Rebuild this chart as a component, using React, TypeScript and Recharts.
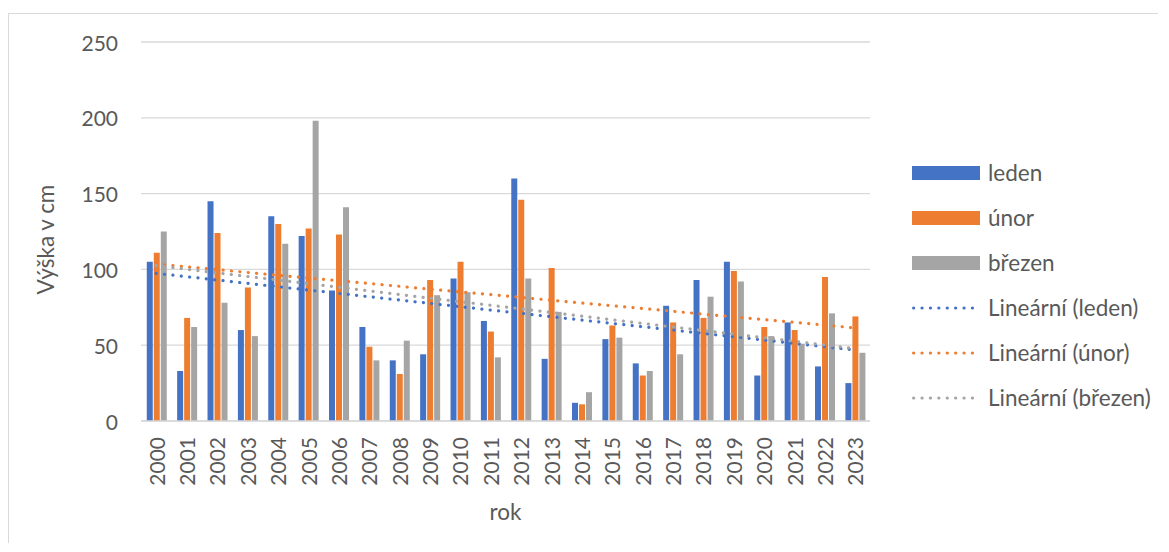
import React from "react";
import {
	Bar,
	BarChart,
	CartesianGrid,
	ReferenceLine,
	XAxis,
	YAxis,
} from "recharts";

const years = [
	"2000", "2001", "2002", "2003", "2004", "2005", "2006", "2007",
	"2008", "2009", "2010", "2011", "2012", "2013", "2014", "2015",
	"2016", "2017", "2018", "2019", "2020", "2021", "2022", "2023",
];
const leden = [105, 33, 145, 60, 135, 122, 86, 62, 40, 44, 94, 66, 160, 41, 12, 54, 38, 76, 93, 105, 30, 65, 36, 25];
const unor = [111, 68, 124, 88, 130, 127, 123, 49, 31, 93, 105, 59, 146, 101, 11, 63, 30, 65, 68, 99, 62, 60, 95, 69];
const brezen = [125, 62, 78, 56, 117, 198, 141, 40, 53, 83, 85, 42, 94, 72, 19, 55, 33, 44, 82, 92, 56, 51, 71, 45];

const seriesKeys = ["leden", "unor", "brezen"];
const seriesNames = ["leden", "únor", "březen"];
const trendNames = ["Lineární (leden)", "Lineární (únor)", "Lineární (březen)"];
const colors = ["#4472C4", "#ED7D31", "#A5A5A5"];
// linear trend values at the first and last year
const trendStart = [97.4, 103.5, 102.5];
const trendEnd = [46.8, 61.4, 47.8];
const yTicks = [0, 50, 100, 150, 200, 250];

const data = years.map((rok, i) => ({
	rok,
	leden: leden[i],
	unor: unor[i],
	brezen: brezen[i],
}));

const FONT = "Lato, 'Noto Sans', sans-serif";
const TEXT = "#595959";
const GRID = "#d9d9d9";
const FS_NUM = 21;
const FS_TXT = 22.5;
const DOTS = "0.1 8.3";

const YTick = ({ y, payload }: any) => (
	<text x={109} y={y} textAnchor="end" dominantBaseline="central" fill={TEXT} fontSize={FS_NUM} fontFamily={FONT}>
		{payload.value}
	</text>
);

const XTick = ({ x, y, payload }: any) => {
	const ty = y + 8;
	return (
		<text
			x={x}
			y={ty}
			transform={`rotate(-90 ${x} ${ty})`}
			textAnchor="end"
			dominantBaseline="central"
			fill={TEXT}
			fontSize={FS_NUM}
			fontFamily={FONT}
		>
			{payload.value}
		</text>
	);
};

const YTitle = ({ viewBox }: any) => {
	const cx = 36;
	const cy = viewBox.y + viewBox.height / 2 + 8;
	return (
		<text x={cx} y={cy} transform={`rotate(-90 ${cx} ${cy})`} textAnchor="middle" dominantBaseline="central" fill={TEXT} fontSize={FS_TXT} fontFamily={FONT}>
			Výška v cm
		</text>
	);
};

const XTitle = ({ viewBox }: any) => (
	<text x={viewBox.x + viewBox.width / 2} y={506} textAnchor="middle" fill={TEXT} fontSize={FS_TXT} fontFamily={FONT}>
		rok
	</text>
);

function LegendBox() {
	const row = { display: "flex", alignItems: "center", height: 45 } as const;
	const label = { marginLeft: 8, color: TEXT, fontSize: FS_TXT, fontFamily: FONT, whiteSpace: "nowrap" } as const;
	return (
		<div style={{ position: "absolute", left: 903, top: 136 }}>
			{seriesNames.map((name, i) => (
				<div key={name} style={row}>
					<div style={{ width: 68, height: 14, background: colors[i] }} />
					<span style={label}>{name}</span>
				</div>
			))}
			{trendNames.map((name, i) => (
				<div key={name} style={row}>
					<svg width={68} height={6} style={{ display: "block" }}>
						<line x1={1.6} y1={3} x2={68} y2={3} stroke={colors[i]} strokeWidth={3.2} strokeLinecap="round" strokeDasharray={DOTS} />
					</svg>
					<span style={label}>{name}</span>
				</div>
			))}
		</div>
	);
}

export default function App() {
	return (
		<div style={{ paddingTop: 5 }}>
			<div
				style={{
					position: "relative",
					width: 1150,
					height: 530,
					boxSizing: "border-box",
					borderLeft: `1px solid ${GRID}`,
					borderTop: `1px solid ${GRID}`,
				}}
			>
				<BarChart
					width={1140}
					height={529}
					data={data}
					margin={{ top: 28, right: 279, left: 0, bottom: 0 }}
					barCategoryGap="19%"
					barGap={1}
				>
					<CartesianGrid vertical={false} stroke={GRID} strokeWidth={1.3} />
					<XAxis
						dataKey="rok"
						height={122}
						axisLine={{ stroke: GRID, strokeWidth: 1.3 }}
						tickLine={false}
						interval={0}
						tick={<XTick />}
						label={<XTitle />}
					/>
					<YAxis
						width={132}
						domain={[0, 250]}
						ticks={yTicks}
						axisLine={false}
						tickLine={false}
						tick={<YTick />}
						label={<YTitle />}
					/>
					{seriesKeys.map((key, i) => (
						<Bar key={key} dataKey={key} name={seriesNames[i]} fill={colors[i]} isAnimationActive={false} />
					))}
					{seriesKeys.map((key, i) => (
						<ReferenceLine
							key={`trend-${key}`}
							segment={[
								{ x: years[0], y: trendStart[i] },
								{ x: years[years.length - 1], y: trendEnd[i] },
							]}
							stroke={colors[i]}
							strokeWidth={3.2}
							strokeLinecap="round"
							strokeDasharray={DOTS}
						/>
					))}
				</BarChart>
				<LegendBox />
			</div>
		</div>
	);
}
